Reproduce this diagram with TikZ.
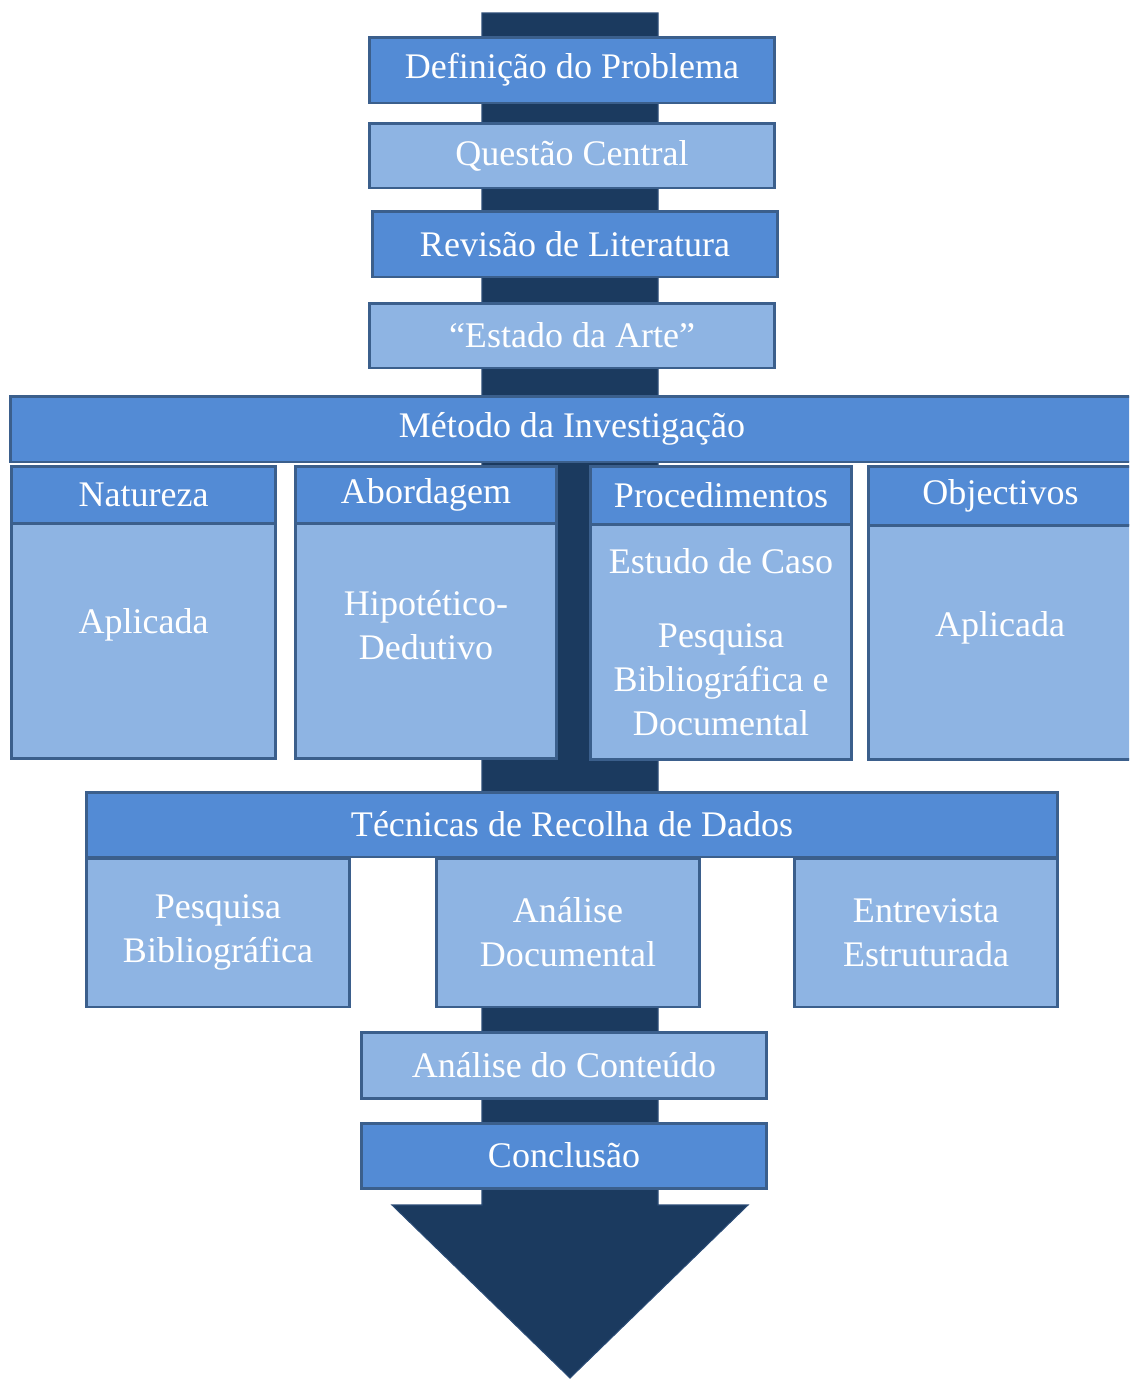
\documentclass[tikz,border=0pt]{standalone}
\usepackage{fontspec}
\setmainfont{Liberation Serif}

\definecolor{shaft}{HTML}{1B3A5F}
\definecolor{edge}{HTML}{3B5F8C}
\definecolor{midblue}{HTML}{538BD5}
\definecolor{lightblue}{HTML}{8EB4E3}

\tikzset{
	boxtext/.style={text=white, inner sep=0pt, align=center, font=\fontsize{20.5}{25}\selectfont},
	box/.style={boxtext, draw=edge, line width=1.7pt},
	midbox/.style={box, fill=midblue},
	lightbox/.style={box, fill=lightblue},
}

\begin{document}
\begin{tikzpicture}[x=0.02cm, y=-0.02cm]
		\useasboundingbox (0, 0) rectangle (1129, 1379);
		\clip (0, 0) rectangle (1129, 1379);
		
		% the big arrow behind everything
		\filldraw[fill=shaft, draw=edge!50!shaft, line width=0.6pt] (482, 13) -- (658, 13) -- (658, 1205)
		-- (748, 1205) -- (570, 1378) -- (392, 1205) -- (482, 1205) -- cycle;
		
		% steps before the method
		\node[midbox, minimum width=8.12cm, minimum height=1.32cm] (problema) at (572, 70) {Definição do Problema};
		\node[lightbox, minimum width=8.12cm, minimum height=1.30cm] (questao) at (572, 155.5) {Questão Central};
		\node[midbox, minimum width=8.12cm, minimum height=1.32cm] (revisao) at (575, 244) {Revisão de Literatura};
		\node[lightbox, minimum width=8.12cm, minimum height=1.30cm] (estado) at (572, 335.5) {“Estado da Arte”};
		
		% method (runs past the right edge)
		\node[midbox, minimum width=22.6cm, minimum height=1.32cm] (metodo) at (575, 429) {\hspace*{-0.12cm}Método da Investigação};
		
		% four columns: header + body
		\node[midbox, minimum width=5.30cm, minimum height=1.14cm] (natureza) at (143.5, 494.5) {Natureza};
		\node[lightbox, minimum width=5.30cm, minimum height=4.72cm] (naturezaB) at (143.5, 641) {};
		\node[boxtext] (naturezaT) at ([yshift=0.32cm]naturezaB.center) {Aplicada};
		
		\node[midbox, minimum width=5.24cm, minimum height=1.14cm] (abordagem) at (426, 494.5) {Abordagem};
		\node[lightbox, minimum width=5.24cm, minimum height=4.72cm] (abordagemB) at (426, 641) {};
		\node[boxtext] (abordagemT) at ([yshift=0.32cm]abordagemB.center) {Hipotético-\\Dedutivo};
		
		\node[midbox, minimum width=5.24cm, minimum height=1.16cm] (procedimentos) at (721, 495) {Procedimentos};
		\node[lightbox, minimum width=5.24cm, minimum height=4.72cm] (procedimentosB) at (721, 642) {Estudo de Caso\\[17pt]Pesquisa\\Bibliográfica e\\Documental};
		
		\node[midbox, minimum width=5.60cm, minimum height=1.18cm] (objectivos) at (1008, 495.5) {\hspace*{-0.30cm}Objectivos};
		\node[lightbox, minimum width=5.60cm, minimum height=4.70cm] (objectivosB) at (1008, 642.5) {};
		\node[boxtext] (objectivosT) at ([xshift=-0.16cm, yshift=0.30cm]objectivosB.center) {Aplicada};
		
		% data collection
		\node[midbox, minimum width=19.44cm, minimum height=1.30cm] (tecnicas) at (572, 824.5) {Técnicas de Recolha de Dados};
		\node[lightbox, minimum width=5.28cm, minimum height=2.98cm] (pesquisa) at (218, 932.5) {Pesquisa\\Bibliográfica};
		\node[lightbox, minimum width=5.28cm, minimum height=2.98cm] (analise) at (568, 932.5) {Análise\\Documental};
		\node[lightbox, minimum width=5.28cm, minimum height=2.98cm] (entrevista) at (926, 932.5) {Entrevista\\Estruturada};
		
		% last steps
		\node[lightbox, minimum width=8.12cm, minimum height=1.32cm] (conteudo) at (564, 1065) {Análise do Conteúdo};
		\node[midbox, minimum width=8.12cm, minimum height=1.30cm] (conclusao) at (564, 1155.5) {Conclusão};
	\end{tikzpicture}
\end{document}
